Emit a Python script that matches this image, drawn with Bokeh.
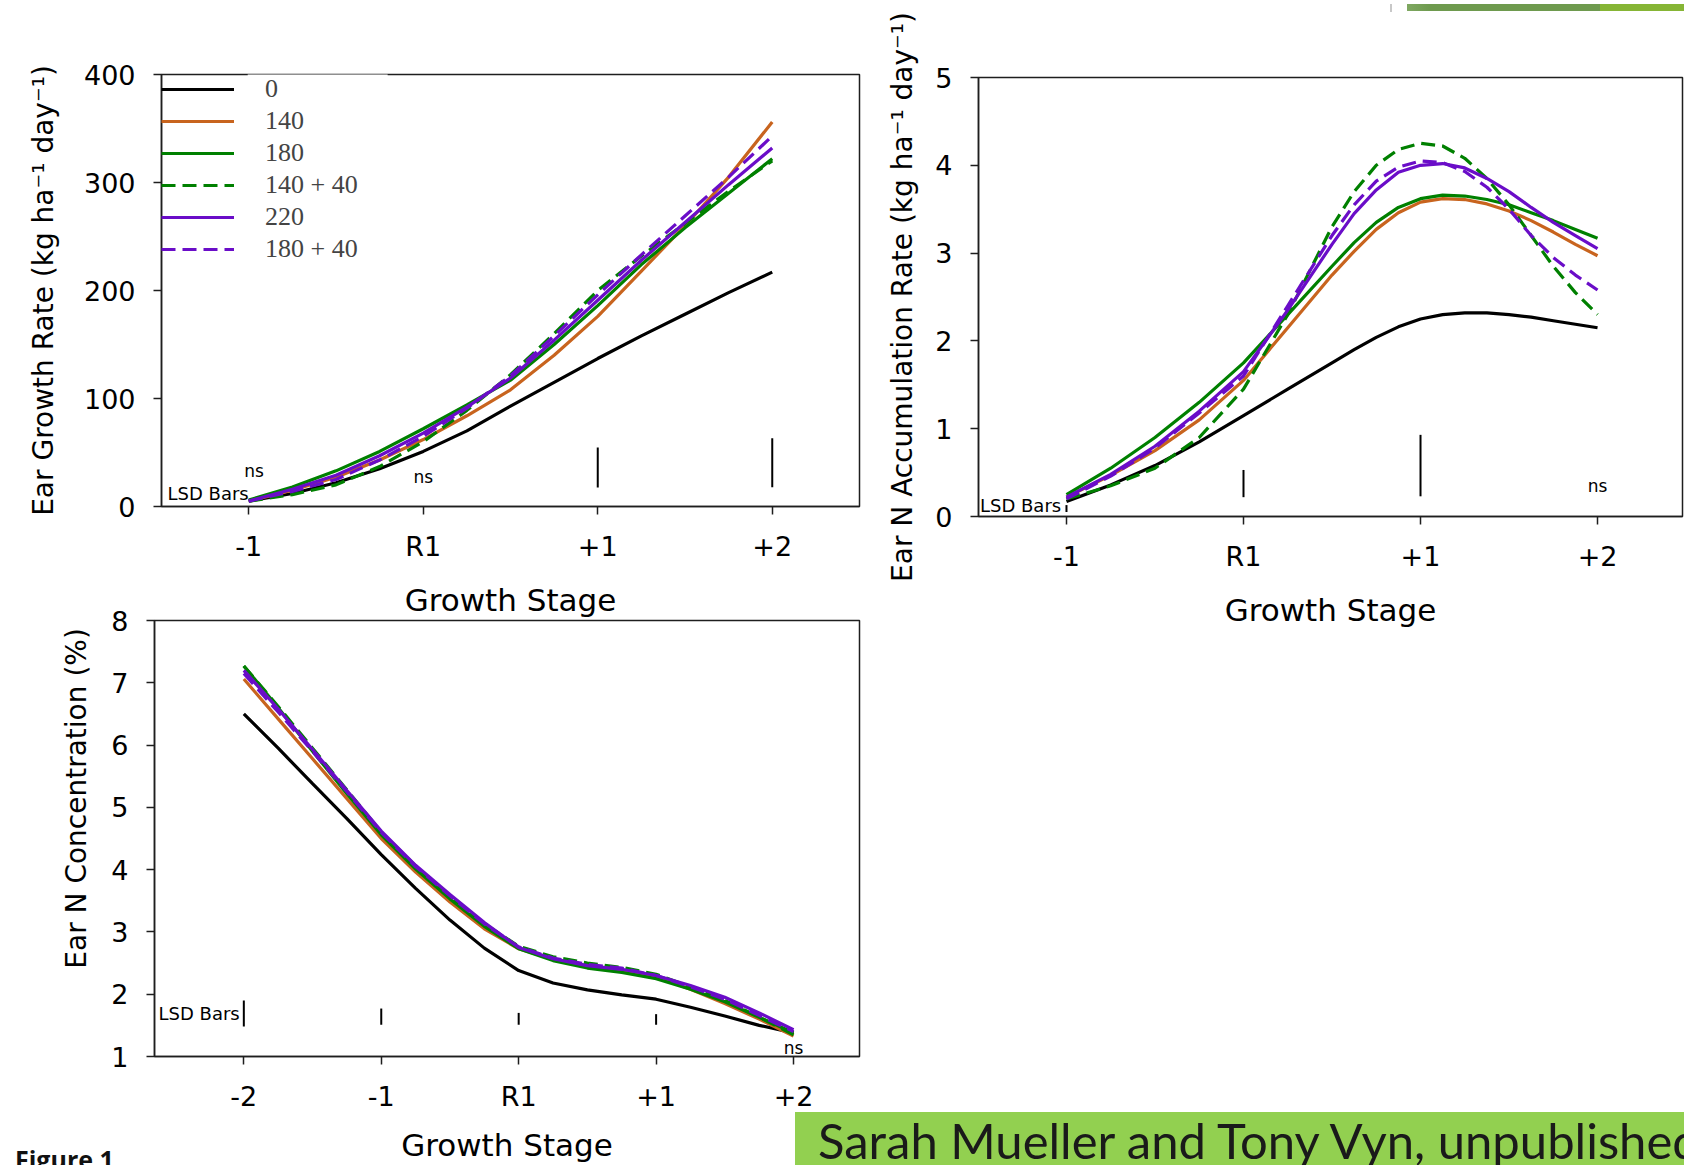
from bokeh.plotting import figure
from bokeh.models import FixedTicker, Legend, LegendItem, Label, BoxAnnotation, Range1d, Div
from bokeh.layouts import column, row
from bokeh.embed import file_html
from bokeh.resources import INLINE

# ---------------- data ----------------
series_names = ["0", "140", "180", "140 + 40", "220", "180 + 40"]
series_colors = ["#000000", "#C8641E", "#008000", "#008000", "#6A0DC8", "#6A0DC8"]
series_dash = ["solid", "solid", "solid", "14 7", "solid", "14 7"]

ticks_ab = [-1, 0, 1, 2]
labels_ab = ["-1", "R1", "+1", "+2"]
ticks_c = [-2, -1, 0, 1, 2]
labels_c = ["-2", "-1", "R1", "+1", "+2"]

stage_a = [-1, -0.75, -0.5, -0.25, 0, 0.25, 0.5, 0.75, 1, 1.25, 1.5, 1.75, 2]
stage_b = [-1, -0.75, -0.5, -0.25, 0, 0.25, 0.5, 0.625, 0.75, 0.875, 1, 1.125, 1.25, 1.375,
           1.5, 1.625, 1.75, 1.875, 2]
stage_c = [-2, -1.75, -1.5, -1.25, -1, -0.75, -0.5, -0.25, 0, 0.25, 0.5, 0.75, 1, 1.25, 1.5, 1.75, 2]

# Ear growth rate (kg ha-1 day-1)
growth_0 = [5, 12, 22, 35, 51, 70, 93, 115, 137, 158, 178, 198, 217]
growth_140 = [5, 15, 27, 43, 62, 84, 108, 140, 176, 218, 260, 305, 356]
growth_180 = [6, 18, 33, 51, 72, 94, 117, 150, 186, 224, 258, 290, 322]
growth_140_40 = [5, 11, 20, 37, 60, 89, 122, 160, 200, 232, 262, 292, 320]
growth_220 = [5, 16, 29, 47, 68, 92, 119, 154, 191, 228, 263, 298, 332]
growth_180_40 = [5, 14, 25, 43, 65, 91, 121, 158, 196, 233, 269, 305, 343]

# Ear N accumulation rate (kg ha-1 day-1)
accum_0 = [0.17, 0.36, 0.58, 0.85, 1.15, 1.45, 1.75, 1.90, 2.04, 2.16, 2.25, 2.30, 2.32, 2.32,
           2.30, 2.27, 2.23, 2.19, 2.15]
accum_140 = [0.22, 0.47, 0.75, 1.10, 1.55, 2.15, 2.75, 3.02, 3.27, 3.46, 3.58, 3.62, 3.61, 3.56,
             3.48, 3.37, 3.24, 3.10, 2.97]
accum_180 = [0.25, 0.55, 0.90, 1.30, 1.75, 2.30, 2.85, 3.12, 3.35, 3.52, 3.62, 3.66, 3.65, 3.61,
             3.55, 3.46, 3.37, 3.27, 3.17]
accum_140_40 = [0.20, 0.35, 0.55, 0.90, 1.45, 2.30, 3.30, 3.70, 4.00, 4.18, 4.25, 4.22, 4.08, 3.85,
                3.55, 3.20, 2.85, 2.55, 2.30]
accum_220 = [0.22, 0.48, 0.80, 1.20, 1.65, 2.35, 3.10, 3.45, 3.72, 3.92, 4.00, 4.02, 3.97, 3.85,
             3.70, 3.52, 3.35, 3.20, 3.05]
accum_180_40 = [0.20, 0.46, 0.78, 1.18, 1.60, 2.40, 3.20, 3.55, 3.82, 3.98, 4.05, 4.03, 3.93, 3.75,
                3.50, 3.20, 2.95, 2.75, 2.58]

# Ear N concentration (%)
conc_0 = [6.5, 5.95, 5.38, 4.82, 4.24, 3.7, 3.19, 2.74, 2.38, 2.18, 2.07, 1.99, 1.92, 1.79, 1.65, 1.5, 1.38]
conc_140 = [7.06, 6.42, 5.78, 5.14, 4.5, 3.96, 3.48, 3.05, 2.73, 2.56, 2.45, 2.38, 2.28, 2.08, 1.85, 1.6, 1.33]
conc_180 = [7.27, 6.6, 5.9, 5.22, 4.56, 4.01, 3.53, 3.09, 2.73, 2.54, 2.42, 2.35, 2.25, 2.08, 1.88, 1.63, 1.38]
conc_140_40 = [7.27, 6.62, 5.95, 5.28, 4.6, 4.06, 3.58, 3.13, 2.77, 2.6, 2.5, 2.43, 2.32, 2.12, 1.9, 1.63, 1.35]
conc_220 = [7.2, 6.58, 5.93, 5.27, 4.62, 4.07, 3.6, 3.15, 2.75, 2.57, 2.46, 2.4, 2.3, 2.14, 1.95, 1.7, 1.43]
conc_180_40 = [7.15, 6.53, 5.9, 5.25, 4.6, 4.05, 3.58, 3.13, 2.76, 2.58, 2.48, 2.42, 2.3, 2.12, 1.92, 1.66, 1.4]

# LSD bars (stage, low, high)
lsd_growth_x = [1, 2]
lsd_growth_lo = [17.6, 17.9]
lsd_growth_hi = [54.6, 63.2]
lsd_accum_x = [-1, 0, 1]
lsd_accum_lo = [0.05, 0.22, 0.23]
lsd_accum_hi = [0.13, 0.53, 0.93]
lsd_conc_x = [-2, -1, 0, 1]
lsd_conc_lo = [1.48, 1.51, 1.51, 1.51]
lsd_conc_hi = [1.90, 1.77, 1.70, 1.68]

growth_series = [growth_0, growth_140, growth_180, growth_140_40, growth_220, growth_180_40]
accum_series = [accum_0, accum_140, accum_180, accum_140_40, accum_220, accum_180_40]
conc_series = [conc_0, conc_140, conc_180, conc_140_40, conc_220, conc_180_40]

# ---------------- styling helpers ----------------
FONT = "DejaVu Sans"
AX_COL = "#1e1e1e"


def style(p, xticks, xlabels, yticks, ylabel, ylabel_standoff, xtitle_standoff):
    if "frame_align" in p.properties():
        p.frame_align = False
    p.background_fill_color = "white"
    p.border_fill_color = None
    p.outline_line_color = AX_COL
    p.outline_line_width = 1.5
    p.grid.visible = False
    xa, ya = p.xaxis[0], p.yaxis[0]
    xa.ticker = FixedTicker(ticks=xticks)
    xa.major_label_overrides = {t: l for t, l in zip(xticks, xlabels)}
    ya.ticker = FixedTicker(ticks=yticks)
    for a in (xa, ya):
        a.axis_line_color = AX_COL
        a.axis_line_width = 1.5
        a.major_tick_line_color = AX_COL
        a.major_tick_line_width = 1.5
        a.major_tick_out = 8
        a.major_tick_in = 0
        a.minor_tick_line_color = None
        a.major_label_text_font = FONT
        a.major_label_text_font_size = "27px"
        a.major_label_text_color = "black"
        a.axis_label_text_font = FONT
        a.axis_label_text_font_style = "normal"
        a.axis_label_text_color = "black"
    xa.major_label_standoff = 16
    ya.major_label_standoff = 18
    ya.axis_label = ylabel
    ya.axis_label_text_font_size = "28px"
    ya.axis_label_standoff = ylabel_standoff
    xa.axis_label = "Growth Stage"
    xa.axis_label_text_font_size = "31px"
    xa.axis_label_standoff = xtitle_standoff


def draw_series(p, xs, series):
    rends = []
    for ys, c, d in zip(series, series_colors, series_dash):
        r = p.line(xs, ys, line_color=c, line_width=3.2, line_dash=d)
        rends.append(r)
    return rends


def lsd(p, xs, lo, hi):
    p.segment(x0=xs, y0=lo, x1=xs, y1=hi, line_color="black", line_width=2)


def note(p, x, y, text, size="17px", align="center"):
    p.add_layout(Label(x=x, y=y, text=text, text_font=FONT, text_font_size=size,
                       text_align=align, text_baseline="middle", text_color="black"))


H1 = 645

# ---------------- panel 1: Ear Growth Rate ----------------
p1 = figure(width=870, height=H1, output_backend="svg", toolbar_location=None,
            x_range=Range1d(-1.5, 2.5), y_range=Range1d(0, 400),
            min_border_left=161, min_border_right=11, min_border_top=74, min_border_bottom=H1 - 74 - 432)
style(p1, ticks_ab, labels_ab, [0, 100, 200, 300, 400],
      "Ear Growth Rate (kg ha\u207b\u00b9 day\u207b\u00b9)", 21, 17)
r1 = draw_series(p1, stage_a, growth_series)
lsd(p1, lsd_growth_x, lsd_growth_lo, lsd_growth_hi)
note(p1, -1.0, 12, "LSD Bars", size="18px", align="right")
note(p1, -0.97, 33, "ns")
note(p1, 0.0, 27, "ns")
p1.add_layout(BoxAnnotation(left=-1.006, right=-0.204, bottom=396, top=404.5,
                            fill_color="white", fill_alpha=1.0, line_color=None, level="overlay"))
legend = Legend(items=[LegendItem(label=n, renderers=[r]) for n, r in zip(series_names, r1)],
                location="top_left", margin=0, padding=8, spacing=2,
                glyph_width=73, glyph_height=20, label_standoff=31,
                label_text_font="Liberation Serif", label_text_font_size="26px",
                background_fill_alpha=0.0, border_line_color=None)
p1.add_layout(legend)

# ---------------- panel 2: Ear N Accumulation Rate ----------------
p2 = figure(width=814, height=H1, output_backend="svg", toolbar_location=None,
            x_range=Range1d(-1.497, 2.48), y_range=Range1d(0, 5),
            min_border_left=108, min_border_right=2, min_border_top=77, min_border_bottom=H1 - 77 - 439)
style(p2, ticks_ab, labels_ab, [0, 1, 2, 3, 4, 5],
      "Ear N Accumulation Rate (kg ha\u207b\u00b9 day\u207b\u00b9)", 13, 17)
draw_series(p2, stage_b, accum_series)
lsd(p2, lsd_accum_x, lsd_accum_lo, lsd_accum_hi)
note(p2, -1.03, 0.125, "LSD Bars", size="18px", align="right")
note(p2, 2.0, 0.35, "ns", size="17px")

# ---------------- panel 3: Ear N Concentration ----------------
OVERLAP = 43
H3 = 1165 - H1 + OVERLAP
TOP3 = 620 - (H1 - OVERLAP)
p3 = figure(width=1684, height=H3, output_backend="svg", toolbar_location=None,
            x_range=Range1d(-2.65, 2.48), y_range=Range1d(1, 8),
            min_border_left=154, min_border_right=1684 - 154 - 705, min_border_top=TOP3,
            min_border_bottom=H3 - TOP3 - 438,
            styles={"margin-top": f"-{OVERLAP}px"})
style(p3, ticks_c, labels_c, [1, 2, 3, 4, 5, 6, 7, 8],
      "\u00a0" * 9 + "Ear N Concentration (%)", 15, 12)
draw_series(p3, stage_c, conc_series)
lsd(p3, lsd_conc_x, lsd_conc_lo, lsd_conc_hi)
note(p3, -2.03, 1.69, "LSD Bars", size="18px", align="right")
note(p3, 2.0, 1.13, "ns", size="17px")

# ---------------- slide decoration and footer texts ----------------
top_bar = Div(
    text=("<div style=\"position:relative;width:1684px;height:8px;margin:0;\">"
          "<div style=\"position:absolute;left:1390px;top:0;width:2px;height:8px;background:#c8c8c8;\"></div>"
          "<div style=\"position:absolute;left:1407px;top:0;width:193px;height:7px;"
          "background:linear-gradient(90deg,#7fa862,#6e9a4e 12%);\"></div>"
          "<div style=\"position:absolute;left:1600px;top:0;width:84px;height:7px;background:#86b535;\"></div>"
          "</div>"),
    width=1684, height=8, margin=0, styles={"margin-bottom": "-8px"})

fig_text = Div(
    text=("<div style=\"margin:0;padding:0;position:relative;left:15px;top:30px;"
          "font-family:'Open Sans';font-weight:bold;font-size:25px;color:#111;white-space:nowrap;\">"
          "Figure 1</div>"),
    width=795, height=53, margin=0)
credit = Div(
    text=("<div style=\"margin:0;width:889px;height:53px;box-sizing:border-box;padding:0 0 0 23px;"
          "background:#92D050;font-family:Lato;font-size:49px;line-height:56px;color:#1a1a1a;"
          "white-space:nowrap;overflow:hidden;\">Sarah Mueller and Tony Vyn, unpublished</div>"),
    width=889, height=53, margin=0)
footer = row(fig_text, credit, styles={"margin-top": "-53px"})

layout = column(top_bar, row(p1, p2), p3, footer)
open("out.html", "w").write(file_html(layout, INLINE))
